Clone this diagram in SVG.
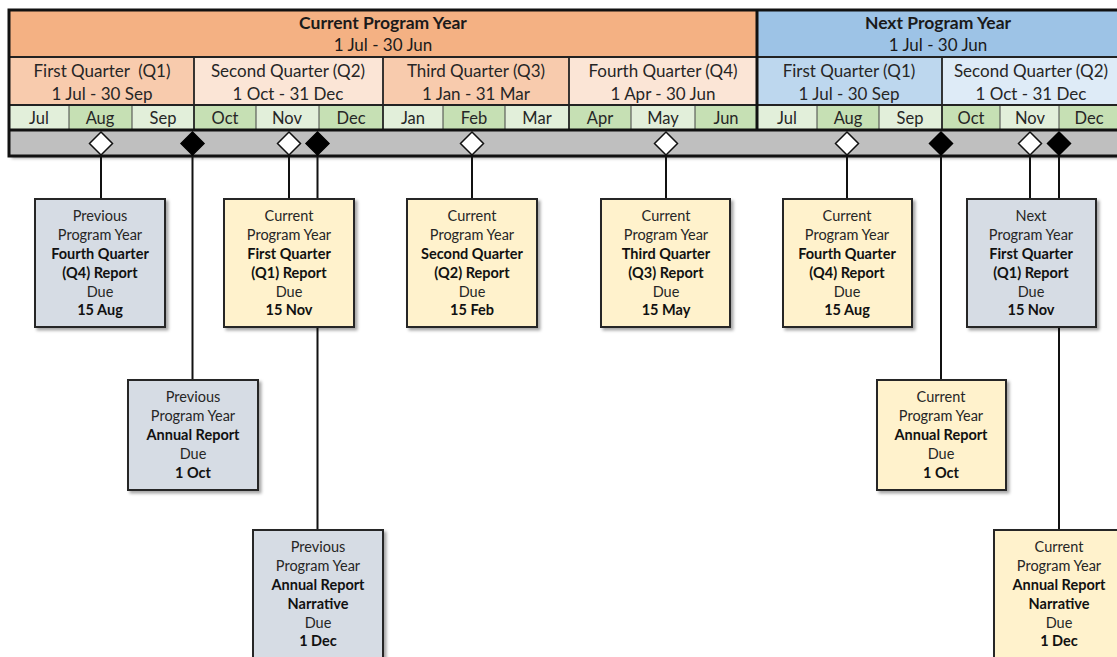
<svg xmlns="http://www.w3.org/2000/svg" width="1117" height="657" viewBox="0 0 1117 657">
<style>
text{font-family:Lato,"Open Sans","Liberation Sans",sans-serif;fill:#1a1a1a;text-anchor:middle}
.h1{font-size:17.5px;font-weight:bold}
.h2{font-size:17px}
.q{font-size:17px;fill:#262626}
.m{font-size:16.5px;fill:#262626}
.bt{font-size:14.5px;fill:#262626}
.b{font-weight:bold;fill:#111}
.box{stroke:#262626;stroke-width:2;filter:url(#sh)}
.prev{fill:#d6dce4}
.cur{fill:#fff2cc}
.conn line{stroke:#111;stroke-width:2}
.dw{fill:#fff;stroke:#111;stroke-width:1.5}
.db{fill:#000;stroke:#000;stroke-width:1.5}
.ml{stroke:#444;stroke-width:1}
.ql{stroke:#222;stroke-width:1.8}
.lm{fill:#e2efda}
.dm{fill:#c6e0b4}
</style>
<defs>
<filter id="sh" x="-10%" y="-10%" width="130%" height="130%">
<feDropShadow dx="2.5" dy="2.5" stdDeviation="1.5" flood-color="#000" flood-opacity="0.35"/>
</filter>
</defs>

<g id="timeline">
<rect x="9" y="10" width="1120" height="146" fill="#bfbfbf" filter="url(#sh)"/>
<rect x="9" y="10" width="748" height="47" fill="#f4b183"/>
<rect x="757" y="10" width="372" height="47" fill="#9dc3e6"/>
<rect x="9" y="57" width="185" height="48" fill="#f8cbad"/>
<rect x="194" y="57" width="189" height="48" fill="#fbe5d6"/>
<rect x="383" y="57" width="186" height="48" fill="#f8cbad"/>
<rect x="569" y="57" width="188" height="48" fill="#fbe5d6"/>
<rect x="757" y="57" width="185" height="48" fill="#bdd7ee"/>
<rect x="942" y="57" width="187" height="48" fill="#deebf7"/>
<rect class="lm" x="9" y="105" width="60" height="25"/>
<rect class="dm" x="69" y="105" width="63" height="25"/>
<rect class="lm" x="132" y="105" width="62" height="25"/>
<rect class="dm" x="194" y="105" width="62" height="25"/>
<rect class="lm" x="256" y="105" width="63" height="25"/>
<rect class="dm" x="319" y="105" width="64" height="25"/>
<rect class="lm" x="383" y="105" width="60" height="25"/>
<rect class="dm" x="443" y="105" width="62" height="25"/>
<rect class="lm" x="505" y="105" width="64" height="25"/>
<rect class="dm" x="569" y="105" width="62" height="25"/>
<rect class="lm" x="631" y="105" width="64" height="25"/>
<rect class="dm" x="695" y="105" width="62" height="25"/>
<rect class="lm" x="757" y="105" width="60" height="25"/>
<rect class="dm" x="817" y="105" width="62" height="25"/>
<rect class="lm" x="879" y="105" width="63" height="25"/>
<rect class="dm" x="942" y="105" width="58" height="25"/>
<rect class="lm" x="1000" y="105" width="59" height="25"/>
<rect class="dm" x="1059" y="105" width="70" height="25"/>
<g class="ml">
<line x1="69" y1="105" x2="69" y2="130"/><line x1="132" y1="105" x2="132" y2="130"/>
<line x1="256" y1="105" x2="256" y2="130"/><line x1="319" y1="105" x2="319" y2="130"/>
<line x1="443" y1="105" x2="443" y2="130"/><line x1="505" y1="105" x2="505" y2="130"/>
<line x1="631" y1="105" x2="631" y2="130"/><line x1="695" y1="105" x2="695" y2="130"/>
<line x1="817" y1="105" x2="817" y2="130"/><line x1="879" y1="105" x2="879" y2="130"/>
<line x1="1000" y1="105" x2="1000" y2="130"/><line x1="1059" y1="105" x2="1059" y2="130"/>
</g>
<g class="ql">
<line x1="194" y1="57" x2="194" y2="130"/><line x1="383" y1="57" x2="383" y2="130"/>
<line x1="569" y1="57" x2="569" y2="130"/><line x1="942" y1="57" x2="942" y2="130"/>
<line x1="9" y1="57" x2="1129" y2="57"/>
<line x1="9" y1="105" x2="1129" y2="105"/>
</g>
<line x1="757" y1="10" x2="757" y2="130" stroke="#111" stroke-width="3"/>
<line x1="9" y1="130" x2="1129" y2="130" stroke="#111" stroke-width="3"/>
<rect x="9" y="10" width="1120" height="146" fill="none" stroke="#111" stroke-width="3"/>
<text class="h1" x="383" y="29">Current Program Year</text>
<text class="h2" x="383" y="51">1 Jul - 30 Jun</text>
<text class="h1" x="938" y="29">Next Program Year</text>
<text class="h2" x="938" y="51">1 Jul - 30 Jun</text>
<text class="q" x="102" y="77" style="white-space:pre">First Quarter  (Q1)</text>
<text class="q" x="102" y="100">1 Jul - 30 Sep</text>
<text class="q" x="288" y="77">Second Quarter (Q2)</text>
<text class="q" x="288" y="100">1 Oct - 31 Dec</text>
<text class="q" x="476" y="77">Third Quarter (Q3)</text>
<text class="q" x="476" y="100">1 Jan - 31 Mar</text>
<text class="q" x="663" y="77">Fourth Quarter (Q4)</text>
<text class="q" x="663" y="100">1 Apr - 30 Jun</text>
<text class="q" x="849" y="77">First Quarter (Q1)</text>
<text class="q" x="849" y="100">1 Jul - 30 Sep</text>
<text class="q" x="1031" y="77">Second Quarter (Q2)</text>
<text class="q" x="1031" y="100">1 Oct - 31 Dec</text>
<text class="m" x="39" y="124">Jul</text>
<text class="m" x="100" y="124">Aug</text>
<text class="m" x="163" y="124">Sep</text>
<text class="m" x="225" y="124">Oct</text>
<text class="m" x="287" y="124">Nov</text>
<text class="m" x="351" y="124">Dec</text>
<text class="m" x="413" y="124">Jan</text>
<text class="m" x="474" y="124">Feb</text>
<text class="m" x="537" y="124">Mar</text>
<text class="m" x="600" y="124">Apr</text>
<text class="m" x="663" y="124">May</text>
<text class="m" x="726" y="124">Jun</text>
<text class="m" x="787" y="124">Jul</text>
<text class="m" x="848" y="124">Aug</text>
<text class="m" x="910" y="124">Sep</text>
<text class="m" x="971" y="124">Oct</text>
<text class="m" x="1030" y="124">Nov</text>
<text class="m" x="1089" y="124">Dec</text>
</g>

<g id="connectors" class="conn">
<line x1="101" y1="154" x2="101" y2="199"/>
<line x1="192.5" y1="154" x2="192.5" y2="380"/>
<line x1="289" y1="154" x2="289" y2="199"/>
<line x1="317.5" y1="154" x2="317.5" y2="530"/>
<line x1="472" y1="154" x2="472" y2="199"/>
<line x1="666" y1="154" x2="666" y2="199"/>
<line x1="847" y1="154" x2="847" y2="199"/>
<line x1="941" y1="154" x2="941" y2="380"/>
<line x1="1030" y1="154" x2="1030" y2="199"/>
<line x1="1059" y1="154" x2="1059" y2="530"/>
</g>

<g id="milestones">
<polygon class="dw" points="101,132 112.5,143.5 101,155 89.5,143.5"/>
<polygon class="db" points="192.5,132 204,143.5 192.5,155 181,143.5"/>
<polygon class="dw" points="289,132 300.5,143.5 289,155 277.5,143.5"/>
<polygon class="db" points="317.5,132 329,143.5 317.5,155 306,143.5"/>
<polygon class="dw" points="472,132 483.5,143.5 472,155 460.5,143.5"/>
<polygon class="dw" points="666,132 677.5,143.5 666,155 654.5,143.5"/>
<polygon class="dw" points="847,132 858.5,143.5 847,155 835.5,143.5"/>
<polygon class="db" points="941,132 952.5,143.5 941,155 929.5,143.5"/>
<polygon class="dw" points="1030,132 1041.5,143.5 1030,155 1018.5,143.5"/>
<polygon class="db" points="1059,132 1070.5,143.5 1059,155 1047.5,143.5"/>
</g>

<g id="prev-q4">
<rect class="box prev" x="35" y="199" width="130" height="128"/>
<text class="bt" x="100" y="221">Previous</text>
<text class="bt" x="100" y="240">Program Year</text>
<text class="bt b" x="100" y="259">Fourth Quarter</text>
<text class="bt b" x="100" y="278">(Q4) Report</text>
<text class="bt" x="100" y="297">Due</text>
<text class="bt b" x="100" y="315">15 Aug</text>
</g>
<g id="cur-q1">
<rect class="box cur" x="224" y="199" width="130" height="128"/>
<text class="bt" x="289" y="221">Current</text>
<text class="bt" x="289" y="240">Program Year</text>
<text class="bt b" x="289" y="259">First Quarter</text>
<text class="bt b" x="289" y="278">(Q1) Report</text>
<text class="bt" x="289" y="297">Due</text>
<text class="bt b" x="289" y="315">15 Nov</text>
</g>
<g id="prev-annual">
<rect class="box prev" x="128" y="380" width="130" height="110"/>
<text class="bt" x="193" y="402">Previous</text>
<text class="bt" x="193" y="421">Program Year</text>
<text class="bt b" x="193" y="440">Annual Report</text>
<text class="bt" x="193" y="459">Due</text>
<text class="bt b" x="193" y="478">1 Oct</text>
</g>
<g id="prev-narrative">
<rect class="box prev" x="253" y="530" width="130" height="140"/>
<text class="bt" x="318" y="552">Previous</text>
<text class="bt" x="318" y="571">Program Year</text>
<text class="bt b" x="318" y="590">Annual Report</text>
<text class="bt b" x="318" y="609">Narrative</text>
<text class="bt" x="318" y="628">Due</text>
<text class="bt b" x="318" y="646">1 Dec</text>
</g>
<g id="cur-q2">
<rect class="box cur" x="407" y="199" width="130" height="128"/>
<text class="bt" x="472" y="221">Current</text>
<text class="bt" x="472" y="240">Program Year</text>
<text class="bt b" x="472" y="259">Second Quarter</text>
<text class="bt b" x="472" y="278">(Q2) Report</text>
<text class="bt" x="472" y="297">Due</text>
<text class="bt b" x="472" y="315">15 Feb</text>
</g>
<g id="cur-q3">
<rect class="box cur" x="601" y="199" width="129" height="128"/>
<text class="bt" x="666" y="221">Current</text>
<text class="bt" x="666" y="240">Program Year</text>
<text class="bt b" x="666" y="259">Third Quarter</text>
<text class="bt b" x="666" y="278">(Q3) Report</text>
<text class="bt" x="666" y="297">Due</text>
<text class="bt b" x="666" y="315">15 May</text>
</g>
<g id="cur-q4">
<rect class="box cur" x="783" y="199" width="129" height="128"/>
<text class="bt" x="847" y="221">Current</text>
<text class="bt" x="847" y="240">Program Year</text>
<text class="bt b" x="847" y="259">Fourth Quarter</text>
<text class="bt b" x="847" y="278">(Q4) Report</text>
<text class="bt" x="847" y="297">Due</text>
<text class="bt b" x="847" y="315">15 Aug</text>
</g>
<g id="next-q1">
<rect class="box prev" x="967" y="199" width="129" height="128"/>
<text class="bt" x="1031" y="221">Next</text>
<text class="bt" x="1031" y="240">Program Year</text>
<text class="bt b" x="1031" y="259">First Quarter</text>
<text class="bt b" x="1031" y="278">(Q1) Report</text>
<text class="bt" x="1031" y="297">Due</text>
<text class="bt b" x="1031" y="315">15 Nov</text>
</g>
<g id="cur-annual">
<rect class="box cur" x="877" y="380" width="129" height="110"/>
<text class="bt" x="941" y="402">Current</text>
<text class="bt" x="941" y="421">Program Year</text>
<text class="bt b" x="941" y="440">Annual Report</text>
<text class="bt" x="941" y="459">Due</text>
<text class="bt b" x="941" y="478">1 Oct</text>
</g>
<g id="cur-narrative">
<rect class="box cur" x="994" y="530" width="130" height="140"/>
<text class="bt" x="1059" y="552">Current</text>
<text class="bt" x="1059" y="571">Program Year</text>
<text class="bt b" x="1059" y="590">Annual Report</text>
<text class="bt b" x="1059" y="609">Narrative</text>
<text class="bt" x="1059" y="628">Due</text>
<text class="bt b" x="1059" y="646">1 Dec</text>
</g>
</svg>
